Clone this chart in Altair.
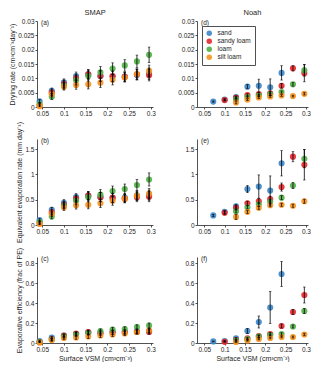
import altair as alt
import pandas as pd

FONT = "Liberation Sans"
INK = "#262626"

SOILS = ["sand", "sandy loam", "loam", "silt loam"]
COLORS = ["#3c86c8", "#e4282c", "#52b048", "#f6921e"]

X_TICKS = [0.05, 0.1, 0.15, 0.2, 0.25, 0.3]
VSM_SMAP = [0.044, 0.072, 0.100, 0.128, 0.156, 0.184, 0.212, 0.240, 0.268, 0.296]
VSM_NOAH = [0.072, 0.100, 0.128, 0.156, 0.184, 0.212, 0.240, 0.268, 0.296]

TICKS_DRY = [0, 0.005, 0.01, 0.015, 0.02, 0.025, 0.03]
TICKS_EVAP = [0, 0.5, 1, 1.5]
TICKS_EFF = [0, 0.2, 0.4, 0.6, 0.8]

# (a) SMAP drying rate
A_SAND = [0.0020, 0.0056, 0.0086, 0.0108, 0.0114, 0.0108, 0.0106, 0.0106, 0.0112, 0.0116]
A_SLOAM = [0.0006, 0.0050, 0.0080, 0.0100, 0.0114, 0.0108, 0.0108, 0.0105, 0.0114, 0.0111]
A_LOAM = [0.0010, 0.0036, 0.0075, 0.0093, 0.0108, 0.0121, 0.0134, 0.0145, 0.0159, 0.0182]
A_SILT = [0.0003, 0.0045, 0.0071, 0.0077, 0.0079, 0.0085, 0.0095, 0.0103, 0.0115, 0.0126]
A_ERR_SAND = [0.0006, 0.0010, 0.0012, 0.0014, 0.0016, 0.0018, 0.0018, 0.0016, 0.0018, 0.0020]
A_ERR_SLOAM = [0.0006, 0.0010, 0.0012, 0.0014, 0.0016, 0.0018, 0.0018, 0.0016, 0.0018, 0.0020]
A_ERR_LOAM = [0.0006, 0.0010, 0.0012, 0.0016, 0.0018, 0.0020, 0.0020, 0.0020, 0.0022, 0.0027]
A_ERR_SILT = [0.0005, 0.0010, 0.0012, 0.0015, 0.0016, 0.0017, 0.0018, 0.0016, 0.0018, 0.0020]

# (b) SMAP equivalent evaporation rate
B_SAND = [0.095, 0.30, 0.44, 0.55, 0.58, 0.55, 0.53, 0.54, 0.58, 0.59]
B_SLOAM = [0.04, 0.25, 0.40, 0.52, 0.58, 0.55, 0.54, 0.52, 0.55, 0.56]
B_LOAM = [0.06, 0.17, 0.38, 0.48, 0.55, 0.60, 0.67, 0.71, 0.79, 0.90]
B_SILT = [0.02, 0.22, 0.35, 0.39, 0.40, 0.43, 0.48, 0.52, 0.58, 0.62]
B_ERR_SAND = [0.03, 0.05, 0.06, 0.07, 0.08, 0.09, 0.09, 0.08, 0.09, 0.10]
B_ERR_SLOAM = [0.03, 0.05, 0.06, 0.07, 0.08, 0.09, 0.09, 0.08, 0.09, 0.10]
B_ERR_LOAM = [0.03, 0.05, 0.06, 0.08, 0.09, 0.10, 0.10, 0.10, 0.11, 0.13]
B_ERR_SILT = [0.025, 0.05, 0.06, 0.075, 0.08, 0.085, 0.09, 0.08, 0.09, 0.10]

# (c) SMAP evaporative efficiency
C_SAND = [0.020, 0.055, 0.075, 0.090, 0.105, 0.100, 0.105, 0.110, 0.120, 0.120]
C_SLOAM = [0.008, 0.040, 0.075, 0.095, 0.110, 0.100, 0.110, 0.110, 0.110, 0.110]
C_LOAM = [0.010, 0.035, 0.065, 0.085, 0.100, 0.120, 0.135, 0.140, 0.160, 0.175]
C_SILT = [0.005, 0.030, 0.050, 0.055, 0.065, 0.075, 0.085, 0.095, 0.110, 0.125]
C_ERR_SAND = [0.010, 0.012, 0.015, 0.018, 0.020, 0.020, 0.020, 0.020, 0.020, 0.022]
C_ERR_SLOAM = [0.010, 0.012, 0.015, 0.018, 0.020, 0.020, 0.020, 0.020, 0.020, 0.022]
C_ERR_LOAM = [0.010, 0.012, 0.015, 0.018, 0.020, 0.020, 0.022, 0.022, 0.022, 0.025]
C_ERR_SILT = [0.008, 0.012, 0.015, 0.018, 0.020, 0.020, 0.020, 0.020, 0.020, 0.022]

# (d) Noah drying rate
D_SAND = [0.0019, 0.0026, 0.0035, 0.0071, 0.0074, 0.0069, 0.0119, None, None]
D_SLOAM = [None, 0.0024, 0.0032, 0.0042, 0.0045, 0.0048, 0.0074, 0.0135, 0.0118]
D_LOAM = [None, None, 0.0027, 0.0035, 0.0040, 0.0044, 0.0052, 0.0079, 0.0128]
D_SILT = [None, None, 0.0016, 0.0026, 0.0033, 0.0037, 0.0040, 0.0038, 0.0046]
D_ERR_SAND = [0.0002, 0.0003, 0.0004, 0.0007, 0.0023, 0.0029, 0.0025, None, None]
D_ERR_SLOAM = [None, 0.0003, 0.0004, 0.0004, 0.0005, 0.0006, 0.0008, 0.0009, 0.0030]
D_ERR_LOAM = [None, None, 0.0003, 0.0003, 0.0004, 0.0004, 0.0004, 0.0006, 0.0020]
D_ERR_SILT = [None, None, 0.0005, 0.0003, 0.0003, 0.0003, 0.0003, 0.0003, 0.0004]

# (e) Noah equivalent evaporation rate
E_SAND = [0.19, 0.26, 0.37, 0.71, 0.76, 0.68, 1.22, None, None]
E_SLOAM = [None, 0.24, 0.34, 0.43, 0.47, 0.51, 0.75, 1.35, 1.19]
E_LOAM = [None, None, 0.27, 0.35, 0.41, 0.46, 0.54, 0.78, 1.31]
E_SILT = [None, None, 0.16, 0.26, 0.34, 0.39, 0.40, 0.38, 0.47]
E_ERR_SAND = [0.02, 0.03, 0.04, 0.07, 0.23, 0.29, 0.25, None, None]
E_ERR_SLOAM = [None, 0.03, 0.04, 0.04, 0.05, 0.06, 0.08, 0.10, 0.30]
E_ERR_LOAM = [None, None, 0.03, 0.03, 0.04, 0.04, 0.04, 0.06, 0.18]
E_ERR_SILT = [None, None, 0.05, 0.03, 0.03, 0.03, 0.03, 0.03, 0.04]

# (f) Noah evaporative efficiency
F_SAND = [0.016, 0.020, 0.047, 0.120, 0.210, 0.355, 0.690, None, None]
F_SLOAM = [None, 0.012, 0.030, 0.047, 0.070, 0.090, 0.170, 0.310, 0.480]
F_LOAM = [None, None, 0.025, 0.040, 0.065, 0.080, 0.090, 0.165, 0.320]
F_SILT = [None, None, 0.010, 0.025, 0.040, 0.050, 0.060, 0.060, 0.085]
F_ERR_SAND = [0.004, 0.005, 0.010, 0.025, 0.060, 0.160, 0.125, None, None]
F_ERR_SLOAM = [None, 0.005, 0.008, 0.010, 0.012, 0.015, 0.020, 0.025, 0.080]
F_ERR_LOAM = [None, None, 0.005, 0.008, 0.010, 0.010, 0.012, 0.015, 0.025]
F_ERR_SILT = [None, None, 0.005, 0.006, 0.008, 0.008, 0.008, 0.010, 0.012]

Y_DRY = "Drying rate (cm³cm⁻³day⁻¹)"
Y_EVAP = "Equivalent evaporation rate (mm day⁻¹)"
Y_EFF = "Evaporative efficiency (frac of PE)"
X_TITLE = "Surface VSM (cm³cm⁻³)"

W_LEFT, W_RIGHT, H = 116, 111, 86


def frame(vsm, vals, errs):
    rows = []
    for soil, v, e in zip(SOILS, vals, errs):
        for x, y, d in zip(vsm, v, e):
            if y is None:
                continue
            rows.append({"vsm": x, "value": y, "err": d, "soil": soil})
    return pd.DataFrame(rows)


def panel(df, xdom, ydom, yticks, ytitle, label, width, title=None,
          legend=None, xtitle=None):
    xenc = alt.X("vsm:Q", scale=alt.Scale(domain=xdom, nice=False, zero=False),
                 axis=alt.Axis(values=X_TICKS, format="~g", title=xtitle))
    yscale = alt.Scale(domain=ydom, nice=False, zero=False)
    yaxis = alt.Axis(values=yticks, format="~g", title=ytitle)
    base = alt.Chart(df)
    pts = base.mark_circle(size=38, opacity=0.9).encode(
        x=xenc,
        y=alt.Y("value:Q", scale=yscale, axis=yaxis),
        color=alt.Color("soil:N", scale=alt.Scale(domain=SOILS, range=COLORS),
                        legend=legend),
    )
    eb = base.transform_calculate(lo="datum.value - datum.err",
                                  hi="datum.value + datum.err")
    bars = eb.mark_rule(color="black", strokeWidth=0.8, clip=True).encode(
        x=xenc, y=alt.Y("lo:Q", scale=yscale, axis=yaxis), y2="hi:Q")
    cap_lo = eb.mark_tick(orient="horizontal", color="black", thickness=0.8,
                          size=2.5, clip=True).encode(
        x=xenc, y=alt.Y("lo:Q", scale=yscale, axis=yaxis))
    cap_hi = eb.mark_tick(orient="horizontal", color="black", thickness=0.8,
                          size=2.5, clip=True).encode(
        x=xenc, y=alt.Y("hi:Q", scale=yscale, axis=yaxis))
    lab = alt.Chart(pd.DataFrame({"t": [label]})).mark_text(
        align="left", baseline="middle", fontSize=6.5, font=FONT, color=INK
    ).encode(text="t:N", x=alt.value(4), y=alt.value(2))
    ch = alt.layer(pts, bars, cap_lo, cap_hi, lab).properties(width=width, height=H)
    if title:
        ch = ch.properties(title=alt.Title(title, fontSize=7.5, fontWeight="normal",
                                           offset=2, color=INK, font=FONT))
    return ch


XD_SMAP = [0.038, 0.305]
XD_NOAH = [0.032, 0.305]

legend_d = alt.Legend(orient="top-left", offset=5, title=None, strokeColor="#505050",
                      fillColor="white", padding=4, labelFontSize=6.5, labelFont=FONT,
                      labelColor=INK, symbolSize=30, symbolType="circle",
                      rowPadding=1, symbolOpacity=0.9, symbolStrokeWidth=0,
                      labelOffset=5)

pa = panel(frame(VSM_SMAP, [A_SAND, A_SLOAM, A_LOAM, A_SILT],
                 [A_ERR_SAND, A_ERR_SLOAM, A_ERR_LOAM, A_ERR_SILT]),
           XD_SMAP, [0, 0.03], TICKS_DRY, Y_DRY, "(a)", W_LEFT, title="SMAP")
pd_ = panel(frame(VSM_NOAH, [D_SAND, D_SLOAM, D_LOAM, D_SILT],
                  [D_ERR_SAND, D_ERR_SLOAM, D_ERR_LOAM, D_ERR_SILT]),
            XD_NOAH, [0, 0.03], TICKS_DRY, None, "(d)", W_RIGHT, title="Noah",
            legend=legend_d)
pb = panel(frame(VSM_SMAP, [B_SAND, B_SLOAM, B_LOAM, B_SILT],
                 [B_ERR_SAND, B_ERR_SLOAM, B_ERR_LOAM, B_ERR_SILT]),
           XD_SMAP, [0, 1.7], TICKS_EVAP, Y_EVAP, "(b)", W_LEFT)
pe = panel(frame(VSM_NOAH, [E_SAND, E_SLOAM, E_LOAM, E_SILT],
                 [E_ERR_SAND, E_ERR_SLOAM, E_ERR_LOAM, E_ERR_SILT]),
           XD_NOAH, [0, 1.7], TICKS_EVAP, None, "(e)", W_RIGHT)
pc = panel(frame(VSM_SMAP, [C_SAND, C_SLOAM, C_LOAM, C_SILT],
                 [C_ERR_SAND, C_ERR_SLOAM, C_ERR_LOAM, C_ERR_SILT]),
           XD_SMAP, [0, 0.86], TICKS_EFF, Y_EFF, "(c)", W_LEFT, xtitle=X_TITLE)
pf = panel(frame(VSM_NOAH, [F_SAND, F_SLOAM, F_LOAM, F_SILT],
                 [F_ERR_SAND, F_ERR_SLOAM, F_ERR_LOAM, F_ERR_SILT]),
           XD_NOAH, [0, 0.86], TICKS_EFF, None, "(f)", W_RIGHT, xtitle=X_TITLE)

chart = alt.concat(pa, pd_, pb, pe, pc, pf, columns=2, bounds="flush",
                   spacing={"row": 32, "column": 44}
).resolve_legend(color="independent").resolve_scale(color="independent").properties(
    padding=0
).configure(font=FONT).configure_axis(
    labelFontSize=6.5, titleFontSize=7, grid=False, tickSize=2, labelPadding=1,
    titlePadding=2, domainColor=INK, tickColor=INK, labelColor=INK, titleColor=INK,
    titleFontWeight="normal", domainWidth=0.8, tickWidth=0.8, labelFont=FONT,
    titleFont=FONT
).configure_view(stroke=None)

chart.save("out.html", embed_options={"renderer": "svg", "actions": False})
